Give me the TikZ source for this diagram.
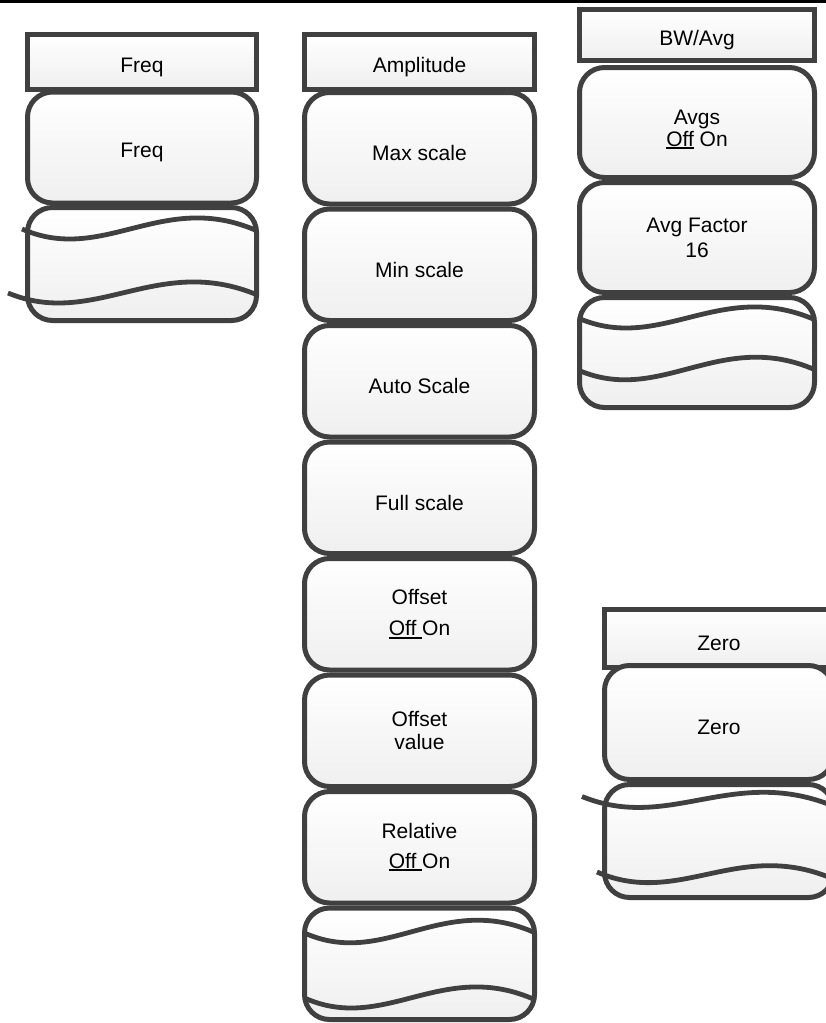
\documentclass[tikz,border=0pt]{standalone}
\usepackage{fontspec}
\setmainfont{Liberation Sans}

\definecolor{keyline}{RGB}{64,64,64}
\definecolor{keyfill}{RGB}{239,239,239}
\newcommand\keyfont{\fontsize{21}{22}\selectfont}
% underlined choice of a toggle key
\newcommand\ulkey[1]{\setbox0\hbox{#1}\rlap{\rule[-2.8pt]{\wd0}{2pt}}\box0\relax}
% wave of a blank key: node, path width, lead, start y, end y
\newcommand\drawwave[5]{%
  \begin{scope}[shift={(#1.north west)}]
    \draw[keywave] (-#3,#4) .. controls ({0.35*(#2+#3)-#3},{#4+36}) and ({0.6*(#2+#3)-#3},{#5-42}) .. ({#2+1},#5);
  \end{scope}}

\tikzset{
  menuhead/.style={draw=keyline, line width=5pt, outer sep=0pt, inner sep=0pt,
    top color=white, bottom color=keyfill,
    minimum width=229pt, minimum height=55pt,
    font=\keyfont, align=center, execute at begin node={\rule{0pt}{25pt}}},
  menukey/.style={menuhead, rounded corners=25pt, minimum height=111pt},
  keywave/.style={draw=keyline, line width=4.8pt},
}

\begin{document}
\begin{tikzpicture}[x=1pt,y=-1pt]

\useasboundingbox (0,0) rectangle (826,1023);
\clip (0,0) rectangle (826,1023);
\fill[black] (0,0) rectangle (826,2.7);

% Freq menu
\node[menuhead] (freqhead) at (142,62) {Freq};
\node[menukey] (freqkey) at (142,147.5) {Freq};
\node[menukey, minimum height=113pt] (freqblank) at (142,264) {};

% Amplitude menu
\node[menuhead, minimum width=230pt] (amphead) at (419.5,62) {Amplitude};
\begin{scope}[every node/.append style={menukey, minimum width=230pt, minimum height=111.5pt}]
  \node (ampmax) at (419.5,148.25) {Max scale};
  \node (ampmin) at (419.5,264.75) {Min scale};
  \node (ampauto) at (419.5,381.25) {Auto Scale};
  \node (ampfull) at (419.5,497.75) {Full scale};
  \node (ampoffset) at (419.5,614.25) {Offset\\[9pt]\ulkey{Off\ }On};
  \node (ampvalue) at (419.5,730.75) {Offset\\[1pt]value};
  \node (amprel) at (419.5,847.25) {Relative\\[8pt]\ulkey{Off\ }On};
  \node (ampblank) at (419.5,963.75) {};
\end{scope}

% BW/Avg menu
\node[menuhead, minimum width=235pt, minimum height=51pt] (bwhead) at (697,35) {BW/Avg};
\node[menukey, minimum width=235pt, minimum height=110pt] (bwavgs) at (697,122.5) {\rule{0pt}{28pt}Avgs\\\ulkey{Off} On};
\node[menukey, minimum width=235pt, minimum height=110pt] (bwfactor) at (697,237.5) {Avg Factor\\[3pt]16};
\node[menukey, minimum width=235pt, minimum height=110pt] (bwblank) at (697,352.5) {};

% Zero menu
\node[menuhead, minimum height=58pt] (zerohead) at (719,638.5) {Zero};
\node[menukey, minimum height=114pt] (zerokey) at (719,722.5) {Zero};
\node[menukey, minimum height=113pt] (zeroblank) at (719,841) {};

% waves of the blank keys
\drawwave{freqblank}{229}{5.5}{21.5}{23.5}
\drawwave{freqblank}{229}{19.5}{85.5}{87.5}
\drawwave{ampblank}{230}{0}{25}{25}
\drawwave{ampblank}{230}{0}{90}{92}
\drawwave{bwblank}{235}{1.5}{20.5}{22.5}
\drawwave{bwblank}{235}{1.5}{72.5}{72.5}
\drawwave{zeroblank}{229}{22.5}{12}{22}
\drawwave{zeroblank}{229}{7.5}{87.5}{95}

\end{tikzpicture}
\end{document}
